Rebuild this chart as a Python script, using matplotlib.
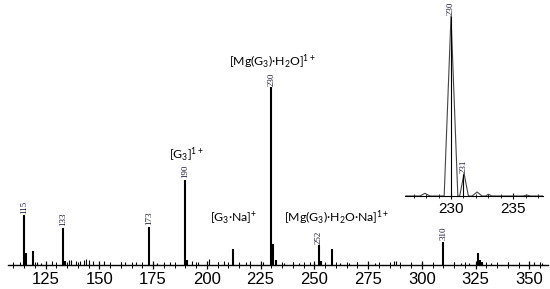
import matplotlib
matplotlib.use("Agg")
import matplotlib.pyplot as plt
from matplotlib.ticker import MultipleLocator

# ------------------------------------------------------------------
# data (heights relative to m/z 230)
# ------------------------------------------------------------------
peak_mz = [115, 116, 119, 133, 134, 173, 190, 191, 212, 230, 231, 232,
           252, 253, 258, 310, 326, 327, 328]
peak_int = [0.28, 0.07, 0.08, 0.21, 0.02, 0.215, 0.48, 0.03, 0.09, 1.0, 0.12, 0.03,
            0.11, 0.02, 0.09, 0.13, 0.07, 0.03, 0.015]

noise_mz = [110, 113, 121, 123, 128, 136, 137, 139, 141, 143, 144, 145, 147, 152,
            160, 162, 165, 167, 177, 180, 183, 193, 196, 201, 205, 208, 215, 218,
            220, 226, 236, 240, 243, 248, 262, 266, 270, 278, 287, 288, 295, 300,
            305, 315, 318, 322, 332, 340, 345, 352, 356]
noise_int = [0.01, 0.015, 0.015, 0.01, 0.02, 0.03, 0.03, 0.02, 0.025, 0.03, 0.035, 0.03,
             0.02, 0.025, 0.015, 0.015, 0.01, 0.015, 0.01, 0.01, 0.015, 0.02, 0.015,
             0.035, 0.015, 0.02, 0.01, 0.015, 0.02, 0.015, 0.01, 0.015, 0.01, 0.015,
             0.01, 0.01, 0.015, 0.01, 0.025, 0.02, 0.01, 0.015, 0.01, 0.015, 0.01,
             0.01, 0.01, 0.015, 0.01, 0.015, 0.01]

labelled_mz = [115, 133, 173, 190, 230, 252, 310]

ion_labels = [r"[Mg(G$_3$)·H$_2$O]$^{1+}$", r"[G$_3$]$^{1+}$",
              r"[G$_3$·Na]$^{+}$", r"[Mg(G$_3$)·H$_2$O·Na]$^{1+}$"]
ion_x = [230.3, 190.3, 212.6, 236.0]
ion_y = [1.09, 0.57, 0.215, 0.215]
ion_ha = ["center", "center", "center", "left"]

# zoomed region around the base peak
inset_mz = [226.3, 227.5, 227.9, 228.3, 229.45, 230.0, 230.55, 230.7, 231.05,
            231.4, 231.7, 232.1, 232.5, 232.8, 233.0, 233.3, 235.8, 236.1, 236.4, 237.4]
inset_int = [0.0, 0.0, 0.015, 0.0, 0.0, 1.0, 0.0, 0.0, 0.125,
             0.0, 0.0, 0.022, 0.0, 0.0, 0.01, 0.0, 0.0, 0.005, 0.0, 0.0]
inset_stick_mz = [230, 231]
inset_stick_int = [1.0, 0.125]

plt.rcParams["mathtext.fontset"] = "custom"
plt.rcParams["mathtext.rm"] = "Lato"
plt.rcParams["mathtext.it"] = "Lato:italic"

fig = plt.figure(figsize=(5.5, 2.89), dpi=100)

# ------------------------------------------------------------------
# main spectrum
# ------------------------------------------------------------------
ax = fig.add_axes([8 / 550, 20 / 289, 540 / 550, 269 / 289])
ax.vlines(noise_mz, 0, noise_int, color="black", linewidth=0.8)
ax.vlines(peak_mz, 0, peak_int, color="black", linewidth=1.5)
ax.set_xlim(107.5, 358.7)
ax.set_ylim(-4 / 178, 265 / 178)

for s in ["top", "right", "left"]:
    ax.spines[s].set_visible(False)
ax.spines["bottom"].set_position(("data", 0))
ax.spines["bottom"].set_linewidth(1.0)
ax.set_yticks([])
ax.xaxis.set_major_locator(MultipleLocator(25))
ax.xaxis.set_minor_locator(MultipleLocator(5))
ax.tick_params(axis="x", which="major", direction="inout", length=6, width=0.9,
               labelsize=12, pad=2)
ax.tick_params(axis="x", which="minor", direction="inout", length=4, width=0.7)
for lab in ax.get_xticklabels():
    lab.set_family("Liberation Sans")

for mz in labelled_mz:
    h = peak_int[peak_mz.index(mz)]
    ax.text(mz, h + 0.008, str(mz), rotation=90, ha="center", va="bottom",
            fontsize=6.5, family="Liberation Serif", color="#1c1c3a")

for txt, x, y, ha in zip(ion_labels, ion_x, ion_y, ion_ha):
    ax.text(x, y, txt, ha=ha, va="bottom", fontsize=8.8, family="Lato")

# ------------------------------------------------------------------
# inset
# ------------------------------------------------------------------
axi = fig.add_axes([405 / 550, 89 / 289, 138 / 550, 200 / 289])
axi.plot(inset_mz, inset_int, color="#444444", linewidth=0.8)
axi.vlines(inset_stick_mz, 0, inset_stick_int, color="black", linewidth=0.8)
axi.set_xlim(226.3, 237.4)
axi.set_ylim(-4 / 180, 196 / 180)
for s in ["top", "right", "left"]:
    axi.spines[s].set_visible(False)
axi.spines["bottom"].set_position(("data", 0))
axi.spines["bottom"].set_linewidth(0.8)
axi.set_yticks([])
axi.xaxis.set_major_locator(MultipleLocator(5))
axi.xaxis.set_minor_locator(MultipleLocator(1))
axi.tick_params(axis="x", which="major", direction="inout", length=5, width=0.8,
                labelsize=11, pad=2)
axi.tick_params(axis="x", which="minor", direction="inout", length=3, width=0.6)
for lab in axi.get_xticklabels():
    lab.set_family("Liberation Sans")
axi.patch.set_alpha(0)

for mz, h in zip(inset_stick_mz, inset_stick_int):
    axi.text(mz, h + 0.003, str(mz), rotation=90, ha="center", va="bottom",
             fontsize=6.5, family="Liberation Serif", color="#1c1c3a")

fig.savefig("out.png", dpi=100)
